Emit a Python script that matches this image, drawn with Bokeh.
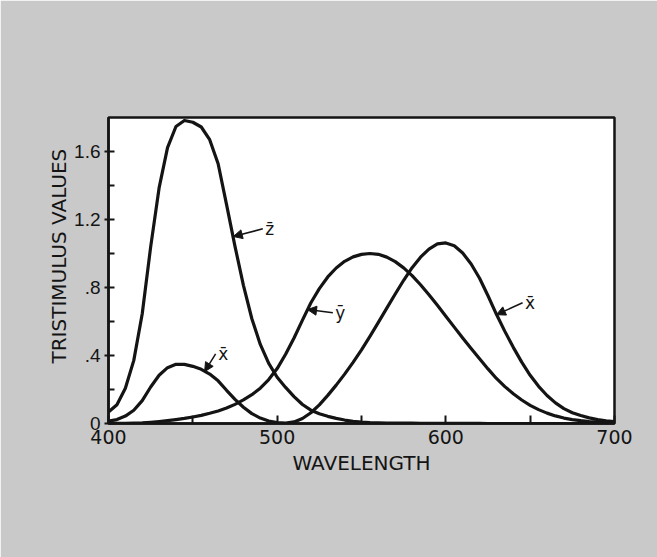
import math

from bokeh.embed import file_html
from bokeh.models import (Arrow, ColumnDataSource, CustomJSTickFormatter,
                          FixedTicker, Label, NormalHead, Range1d, Title)
from bokeh.plotting import figure
from bokeh.resources import INLINE

# CIE 1931 standard observer colour-matching functions, 400-700 nm in 5 nm steps
wavelength = list(range(400, 705, 5))
xbar = [0.01431, 0.02319, 0.04351, 0.07763, 0.13438, 0.21477, 0.2839, 0.3285,
        0.34828, 0.34806, 0.3362, 0.3187, 0.2908, 0.2511, 0.19536, 0.1421,
        0.09564, 0.05795, 0.03201, 0.0147, 0.0049, 0.0024, 0.0093, 0.0291,
        0.06327, 0.1096, 0.1655, 0.22575, 0.2904, 0.3597, 0.43345, 0.51205,
        0.5945, 0.6784, 0.7621, 0.8425, 0.9163, 0.9786, 1.0263, 1.0567,
        1.0622, 1.0456, 1.0026, 0.9384, 0.85445, 0.7514, 0.6424, 0.5419,
        0.4479, 0.3608, 0.2835, 0.2187, 0.1649, 0.1212, 0.0874, 0.0636,
        0.04677, 0.0329, 0.0227, 0.01584, 0.011359]
ybar = [0.000396, 0.00064, 0.00121, 0.00218, 0.004, 0.0073, 0.0116, 0.01684,
        0.023, 0.0298, 0.038, 0.048, 0.06, 0.0739, 0.09098, 0.1126,
        0.13902, 0.1693, 0.20802, 0.2586, 0.323, 0.4073, 0.503, 0.6082,
        0.71, 0.7932, 0.862, 0.91485, 0.954, 0.9803, 0.99495, 1.0,
        0.995, 0.9786, 0.952, 0.9154, 0.87, 0.8163, 0.757, 0.6949,
        0.631, 0.5668, 0.503, 0.4412, 0.381, 0.321, 0.265, 0.217,
        0.175, 0.1382, 0.107, 0.0816, 0.061, 0.04458, 0.032, 0.0232,
        0.017, 0.01192, 0.00821, 0.005723, 0.004102]
zbar = [0.06785, 0.1102, 0.2074, 0.3713, 0.6456, 1.0391, 1.3856, 1.62296,
        1.74706, 1.7826, 1.77211, 1.7441, 1.6692, 1.5281, 1.28764, 1.0419,
        0.81295, 0.6162, 0.46518, 0.3533, 0.272, 0.2123, 0.1582, 0.1117,
        0.07825, 0.05725, 0.04216, 0.02984, 0.0203, 0.0134, 0.00875, 0.00575,
        0.0039, 0.00275, 0.0021, 0.0018, 0.00165, 0.0014, 0.0011, 0.001,
        0.0008, 0.0006, 0.00034, 0.00024, 0.00019, 0.0001, 0.00005, 0.00003,
        0.00002, 0.00001, 0.0, 0.0, 0.0, 0.0, 0.0, 0.0,
        0.0, 0.0, 0.0, 0.0, 0.0]

x_ticks = [400, 500, 600, 700]
x_minor = [450, 550, 650]
y_ticks = [0, 0.4, 0.8, 1.2, 1.6]
y_minor = [0.2, 0.6, 1.0, 1.4]

FONT = "DejaVu Sans"
NUM_FONT_Y = "Liberation Sans"
INK = "#141414"
PAPER = "#c9c9c9"

src = ColumnDataSource(dict(wl=wavelength, x=xbar, y=ybar, z=zbar))

p = figure(width=657, height=557, output_backend="svg", toolbar_location=None,
           x_range=Range1d(400, 700), y_range=Range1d(0, 1.8),
           background_fill_color="white", border_fill_color=PAPER,
           min_border_left=108, min_border_right=43,
           min_border_top=117, min_border_bottom=134)

p.xgrid.visible = False
p.ygrid.visible = False
p.outline_line_color = INK
p.outline_line_width = 2.5

for col in ("z", "x", "y"):
    p.line("wl", col, source=src, line_color=INK, line_width=3.2, line_join="round")

# axes
xa = p.xaxis[0]
xa.ticker = FixedTicker(ticks=x_ticks, minor_ticks=x_minor)
xa.axis_label = "WAVELENGTH"
xa.axis_label_text_font = FONT
xa.axis_label_text_font_size = "20px"
xa.axis_label_text_font_style = "normal"
xa.axis_label_text_color = INK
xa.axis_label_standoff = 4
xa.major_tick_in = 8
xa.major_tick_out = 0
xa.minor_tick_in = 8
xa.minor_tick_out = 0
xa.major_label_standoff = 6
xa.major_label_text_font = FONT

ya = p.yaxis[0]
ya.ticker = FixedTicker(ticks=y_ticks, minor_ticks=y_minor)
ya.formatter = CustomJSTickFormatter(
    code="return tick == 0 ? '0' : tick.toFixed(1).replace(/^0/, '');")
ya.major_tick_in = 6
ya.major_tick_out = 4
ya.minor_tick_in = 6
ya.minor_tick_out = 0
ya.major_label_standoff = 4
ya.major_label_text_font = NUM_FONT_Y

for ax in (xa, ya):
    ax.axis_line_color = INK
    ax.axis_line_width = 2.5
    ax.major_tick_line_color = INK
    ax.minor_tick_line_color = INK
    ax.major_tick_line_width = 2
    ax.minor_tick_line_width = 2
    ax.major_label_text_font_size = "19px"
    ax.major_label_text_color = INK

# vertical axis title, placed a little above the frame's centre
p.add_layout(Title(text="TRISTIMULUS VALUES", align="left", offset=60,
                   text_font=FONT, text_font_size="20px",
                   text_font_style="normal", text_color=INK, standoff=2), "left")

# pointer labels for each curve
pointers = [
    # (tip x, tip y, tail x, tail y, label)
    (474.0, 1.10, 491.5, 1.145, "z\u0304"),
    (457.0, 0.305, 463.5, 0.41, "x\u0304"),
    (518.0, 0.67, 533.0, 0.652, "y\u0304"),
    (630.0, 0.64, 645.5, 0.71, "x\u0304"),
]
for tx, ty, sx, sy, txt in pointers:
    p.add_layout(Arrow(end=NormalHead(size=9, fill_color=INK, line_color=INK),
                       x_start=sx, y_start=sy, x_end=tx, y_end=ty,
                       line_color=INK, line_width=1.5))
    p.add_layout(Label(x=sx + 1.5, y=sy, text=txt, text_align="left",
                       text_baseline="middle", text_font=FONT,
                       text_font_size="17px", text_color=INK))

open("out.html", "w").write(file_html(p, INLINE))
